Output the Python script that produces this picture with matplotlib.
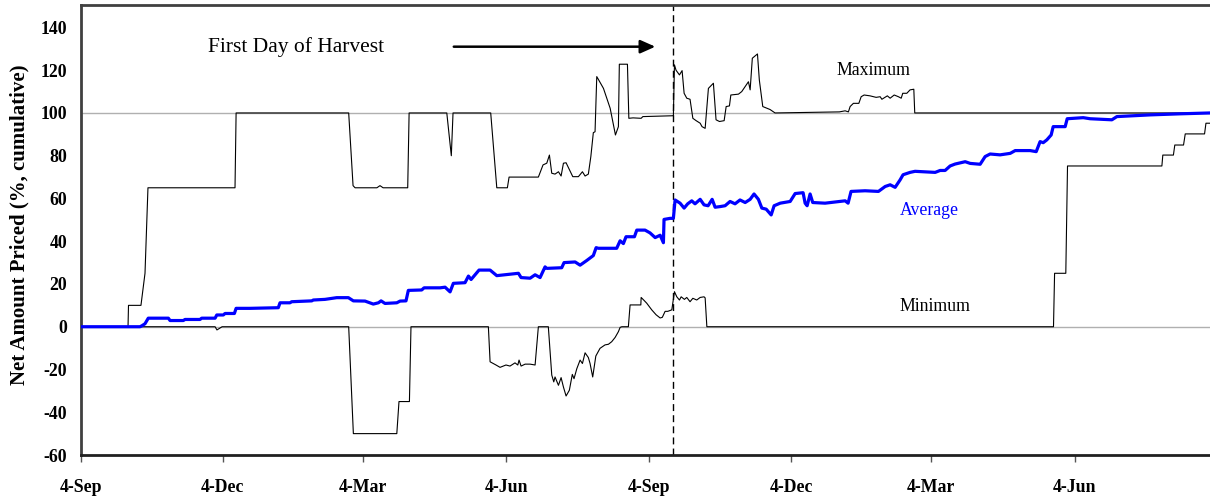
import matplotlib
matplotlib.use("Agg")
import matplotlib.pyplot as plt

# x values: days since 4-Sep of the first year
max_days = [0, 30.2, 30.5, 38.5, 41.1, 43.0, 98.9, 99.6, 171.9, 174.7, 176, 190, 192, 194, 209.8, 210.7,
            234.9, 237.8, 238.9, 263.1, 267.0, 273.8, 274.9, 293.7, 296.7, 299.1, 300.8, 302.3,
            304.4, 306.6, 308.3, 309.8, 311.5, 315.8, 319.4, 322.0, 323.7, 325.8, 327.4, 329.0,
            330.1, 331.2, 332.0, 335.5, 339.8, 343.2, 345.1, 345.7, 350.9, 351.8, 354.5, 359.7,
            360.8, 380.4, 381.1, 382.1, 384.3, 386.0, 387.3, 389.0, 391.1, 392.9, 395.0, 397.6,
            398.8, 400.8, 402.9, 406.1, 407.8, 410.0, 413.0, 414.3, 416.4, 417.3, 422.2, 424.3,
            428.6, 429.7, 431.1, 434.4, 435.6, 437.8, 442.5, 445.7, 487.0, 490.7, 492.8, 493.9,
            496.0, 499.5, 501.0, 502.9, 506.7, 510.6, 513.2, 514.3, 517.8, 519.6, 522.2, 524.9,
            526.7, 527.7, 530.3, 532.4, 534.8, 535.4, 725]
max_vals = [0, 0, 10, 10, 25, 65, 65, 100, 100, 66, 65, 65, 66, 65, 65, 100,
            100, 80, 100, 100, 65, 65, 70, 70, 75.7, 76.5, 80.3, 71.8,
            71.4, 72.5, 70.5, 76.5, 76.7, 70.2, 70.2, 72.5, 70.5, 71.4, 79.6, 90.8,
            91.2, 117, 116, 111.5, 102.2, 89.7, 93.6, 122.8, 122.8, 97.5, 97.7, 97.5,
            98.3, 98.7, 122.5, 120, 117.8, 119.8, 109.2, 106.9, 106.4, 97.5, 96.4, 95.2,
            93.6, 92.8, 111.5, 113.9, 96.8, 96, 96.4, 103, 103.3, 108.4, 108.8, 110,
            114.6, 110.8, 125.6, 127.6, 115.4, 103, 101.6, 100, 100.5, 101, 100.5, 103,
            104.5, 104.5, 107.6, 108.4, 108, 107.3, 107.6, 106.4, 108, 106.9, 108.4, 107.6,
            106.9, 109.2, 109.2, 110.8, 111.1, 100, 100]

min_days = [0, 86.1, 87.3, 90.6, 171.9, 174.9, 202.8, 204.2, 210.9, 211.9, 261.6, 262.7,
            266.5, 269.1, 272.9, 275.5, 278.7, 280.5, 281.3, 282.6, 285.2, 288.4, 291.6,
            293.7, 300.1, 302.3, 303.6, 304.4, 306.6, 308.3, 309.8, 311.5, 313.6, 315.5,
            316.6, 318.4, 320.5, 322.0, 323.7, 325.8, 326.9, 328.6, 330.6, 333.3, 336.5,
            338.7, 340.8, 343.0, 345.1, 346.2, 347.3, 351.5, 352.6, 359.5, 359.7, 361.6,
            363.3, 366.5, 369.3, 371.9, 373.3, 375.1, 376.8, 379.4, 381.1, 382.6, 384.3,
            385.4, 387.5, 389.0, 391.1, 392.9, 395.4, 397.6, 400.1, 400.8, 401.9, 624.5,
            625.2, 632.4, 633.5, 694.1, 694.7, 701.5, 702.4, 708.0, 709.1, 721.5, 722.4, 725]
min_vals = [0, 0, -1.5, 0, 0, -50, -50, -35, -35, 0, 0, -16.4,
            -17.9, -19, -17.9, -18.4, -16.9, -17.9, -15.6, -18.4, -17.5, -17.5, -17.9,
            0, 0, -22.6, -25.8, -23.5, -27.4, -23.8, -28.2, -32.4, -29.7, -22.3,
            -24.3, -19.6, -15.6, -17.2, -12.2, -14.4, -17.2, -23.5, -13.7, -10.1, -8.5,
            -8.2, -7, -5, -2.3, -0.3, 0, 0, 10.2, 10.2, 13.7, 12.3,
            11, 7.9, 5.6, 4.1, 4.4, 7.2, 7.2, 7.9, 16.4, 14, 12.5,
            14, 12.8, 13.7, 11.7, 13.3, 12.5, 13.7, 14, 13.5, 0, 0,
            25, 25, 75.2, 75.2, 80.3, 80.3, 85, 85, 90.2, 90.2, 95.2, 95.2]

avg_days = [0, 37.9, 39.2, 41.1, 43.2, 56.1, 57.2, 65.7, 66.8, 76.4, 77.5, 86.1, 87.2, 91.4,
            92.5, 98.5, 99.6, 108.5, 126.7, 127.8, 134.2, 135.3, 148.2, 149.2, 156.7, 164.2,
            171.7, 174.9, 182.4, 187.7, 191.0, 192.7, 195.2, 202.8, 204.9, 208.7, 210.2,
            218.8, 220.3, 230.6, 233.8, 237.0, 239.1, 246.6, 248.8, 250.5, 255.6, 262.7,
            267.0, 272.3, 280.9, 282.6, 288.4, 291.6, 294.8, 298.0, 299.1, 308.7, 310.2,
            317.3, 320.5, 324.8, 329.0, 330.8, 332.2, 344.0, 346.2, 348.3, 350.0, 355.4,
            356.9, 362.2, 365.4, 368.7, 371.9, 374.0, 374.4, 378.3, 380.4, 381.5, 384.7,
            387.3, 389.6, 392.2, 394.3, 397.6, 400.1, 402.7, 405.3, 407.2, 410.4, 413.6,
            416.8, 420.0, 423.2, 426.5, 429.7, 432.2, 435.0, 437.2, 440.0, 443.2, 445.1,
            449.0, 455.4, 458.6, 463.7, 465.0, 466.3, 468.2, 469.9, 477.8, 490.7, 492.6,
            494.5, 503.5, 512.1, 516.4, 519.6, 522.8, 526.0, 527.9, 532.4, 535.6, 548.5,
            551.7, 554.9, 558.1, 561.3, 567.8, 571.0, 577.4, 580.6, 583.8, 590.2, 596.7,
            599.9, 609.5, 613.4, 615.9, 617.9, 620.2, 623.0, 624.3, 632.0, 633.3, 643.6,
            648.0, 662.0, 665.2, 686.6, 705.9, 725]
avg_vals = [0, 0, 0.5, 1.4, 4, 4, 2.9, 2.9, 3.4, 3.4, 4, 4, 5.5, 5.5,
            6.2, 6.2, 8.6, 8.6, 8.9, 11.2, 11.2, 11.7, 12.1, 12.5, 12.8, 13.6,
            13.6, 12.1, 12, 10.6, 11.2, 12.1, 10.9, 11.2, 12, 12.1, 17,
            17.2, 18.2, 18.2, 18.5, 16.3, 20.3, 20.6, 23.7, 22.1, 26.5, 26.5,
            23.9, 24.3, 25, 23, 22.7, 24.3, 23, 28, 27.3, 27.6, 30,
            30.3, 28.8, 31, 33.3, 37, 36.7, 36.7, 40.2, 38.9, 42.1, 42.1,
            45.2, 45.2, 43.9, 41.7, 42.8, 39.3, 50.2, 50.7, 50.7, 59.3, 57.8,
            55.5, 57.5, 58.9, 57.5, 59.6, 57, 56.6, 59.6, 55.9, 56.2, 56.6,
            58.6, 57.5, 59.3, 58.1, 59.6, 62.1, 59.6, 55.5, 55, 52.3, 56.6,
            57.8, 58.6, 62.3, 62.7, 57.8, 56.6, 62.1, 58.1, 57.8, 58.9, 57.8,
            63.3, 63.6, 63.3, 65.6, 66.4, 65.2, 68.7, 71.1, 72.2, 72.7, 72.2,
            73.1, 73.1, 75.2, 76.1, 77.2, 76.4, 76, 79.6, 80.8, 80.4, 81.1,
            82.4, 82.4, 81.9, 86.6, 86.1, 87.4, 89.7, 93.6, 93.6, 97.3, 97.8,
            97.3, 96.8, 98.3, 99.1, 99.6, 100]

tick_days = [0, 91, 181, 273, 365, 456, 546, 638]
tick_labels = ["4-Sep", "4-Dec", "4-Mar", "4-Jun", "4-Sep", "4-Dec", "4-Mar", "4-Jun"]
y_ticks = [-60, -40, -20, 0, 20, 40, 60, 80, 100, 120, 140]
harvest_day = 380.4

plt.rcParams['font.family'] = ['Liberation Serif', 'DejaVu Serif']

fig = plt.figure(figsize=(12.1, 4.97), dpi=100)
ax = fig.add_axes([81/1210, 1 - 455/497, 1 - 81/1210, 450/497])

ax.axhline(0, color='#b0b0b0', lw=1.0, zorder=1)
ax.axhline(100, color='#b0b0b0', lw=1.0, zorder=1)

ax.plot(max_days, max_vals, color='black', lw=0.8, zorder=3)
ax.plot(min_days, min_vals, color='black', lw=0.8, zorder=3)
ax.plot(avg_days, avg_vals, color='#0000ff', lw=2.3, zorder=4)

ax.axvline(harvest_day, color='black', lw=1.0, dashes=(5, 3), zorder=2)

ax.annotate('', xy=(370.6, 131), xytext=(237.6, 131),
            arrowprops=dict(arrowstyle='-|>,head_length=0.9,head_width=0.4', color='black', lw=1.8))
ax.text(81.5, 131, 'First Day of Harvest', fontsize=15.5, va='center', ha='left')
ax.text(509, 120, 'Maximum', fontsize=12.8, ha='center', va='center')
ax.text(544.5, 54.5, 'Average', fontsize=12.8, ha='center', va='center', color='#0000ff')
ax.text(548.5, 9.5, 'Minimum', fontsize=12.8, ha='center', va='center')

ax.set_xlim(0, 725)
ax.set_ylim(-60, 150.5)
ax.set_xticks(tick_days)
ax.set_xticklabels(tick_labels, fontsize=12.8, fontweight='bold')
ax.set_yticks(y_ticks)
ax.set_yticklabels([str(v) for v in y_ticks], fontsize=12.8, fontweight='bold')
ax.tick_params(axis='y', length=0, pad=10)
ax.tick_params(axis='x', length=5, width=1, color='#555555', pad=12)

ax.set_ylabel('Net Amount Priced (%, cumulative)', fontsize=15, fontweight='bold')
ax.yaxis.set_label_coords(-52/1129, 0.511)

for side in ['top', 'left']:
    ax.spines[side].set_color('#404040')
    ax.spines[side].set_linewidth(2.0)
ax.spines['bottom'].set_color('#202020')
ax.spines['bottom'].set_linewidth(2.0)
ax.spines['right'].set_visible(False)

fig.savefig('out.png', dpi=100)
